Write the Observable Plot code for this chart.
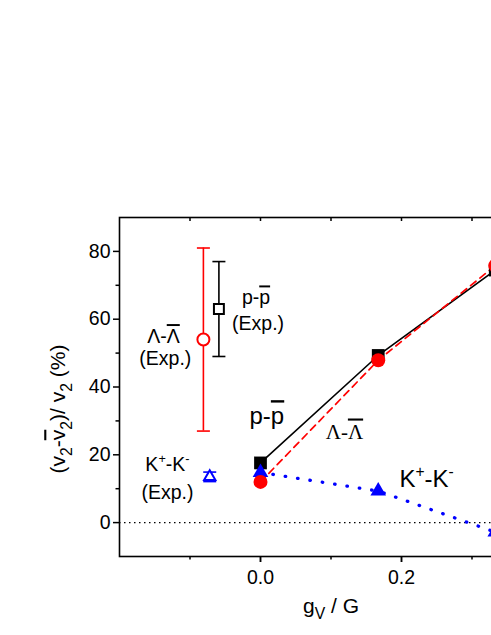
<!DOCTYPE html>
<html><head><meta charset="utf-8">
<script src="https://cdn.jsdelivr.net/npm/d3@7"></script>
<script src="https://cdn.jsdelivr.net/npm/@observablehq/plot@0.6"></script>
<style>
html,body{margin:0;padding:0;overflow:hidden;background:#fff}
#chart{width:560px;height:635px}
#chart svg{max-width:none !important;width:560px !important;height:635px !important}
</style>
</head><body><div id="chart"></div>
<script>
// ---- data ----
const gv = [0, 0.167, 0.333];
const vPP = [17.6, 49.3, 74.5];
const vLam = [12.0, 47.9, 75.8];
const vK = [14.8, 9.3, -2.8];

const expKeys = ["lam", "p", "k"];
const expX = [-0.081, -0.059, -0.072];
const expY = [54, 63, 13.5];
const expErr = [27, 14, 1.4];
const expColor = ["#ff0000", "#000000", "#0000ff"];

const xDomain = [-0.2, 0.4];
const yDomain = [-10, 90];
const xLabeled = [0, 0.2];
const xMajor = [0, 0.2, 0.4];
const xMinor = [-0.1, 0.1, 0.3];
const xTop = [-0.1, 0, 0.1, 0.2, 0.3, 0.4];
const yMajor = [0, 20, 40, 60, 80];
const yMinor = [10, 30, 50, 70];

// labels (markup: [x] overline, ^c superscript, _c subscript)
const bigLabels = ["p-[p]", "K^+-K^-"];
const bigLabelX = [-0.0156, 0.197];
const bigLabelY = [31.3, 12.8];
const serifLabel = ["Λ-[Λ]"];
const serifLabelX = [0.119];
const serifLabelY = [26.5];
const expLabels = ["Λ-[Λ]", "(Exp.)", "p-[p]", "(Exp.)", "K^+-K^-", "(Exp.)"];
const expLabelX = [-0.1376, -0.135, -0.0064, -0.0035, -0.132, -0.132];
const expLabelY = [54.8, 48.4, 66.2, 58.6, 17.0, 8.8];
const yTitle = "(v_2-[v]_2)/ v_2 (%)";
const xTitle = "g_V / G";

// ---- tables ----
const rows = (ys) => gv.map((g, i) => ({g, v: ys[i]}));
const pp = rows(vPP), lam = rows(vLam), kk = rows(vK);
const exp = expKeys.map((k, i) => ({k, x: expX[i], y: expY[i], lo: expY[i] - expErr[i], hi: expY[i] + expErr[i], c: expColor[i]}));
const capSym = {draw(ctx, size) { const w = Math.sqrt(size / Math.PI); ctx.moveTo(-w, 0); ctx.lineTo(w, 0); }};
const lab = (t, xs, ys) => t.map((s, i) => ({s, x: xs[i], y: ys[i]}));

const sans = "'Liberation Sans', Arial, sans-serif";
const serif = "'Liberation Serif', 'Times New Roman', serif";

const chart = Plot.plot({
  width: 560, height: 635,
  marginLeft: 119, marginRight: 18, marginTop: 217, marginBottom: 79,
  x: {domain: xDomain},
  y: {domain: yDomain},
  style: {fontFamily: sans, background: "white", color: "black", maxWidth: "none"},
  marks: [
    Plot.ruleY([0], {strokeDasharray: "1.5,3.5", strokeWidth: 1.3}),
    Plot.line(pp, {x: "g", y: "v", stroke: "black", strokeWidth: 1.6}),
    Plot.line(lam, {x: "g", y: "v", stroke: "#ff0000", strokeWidth: 1.7, strokeDasharray: "7,5"}),
    Plot.line(kk, {x: "g", y: "v", stroke: "#0000ff", strokeWidth: 3.3, strokeDasharray: "0.5,12", strokeLinecap: "round"}),
    // experimental error bars
    Plot.ruleX(exp, {x: "x", y1: "lo", y2: "hi", stroke: "c", strokeWidth: 1.6}),
    Plot.dot(exp, {x: "x", y: "lo", symbol: capSym, r: 6.5, stroke: "c", fill: "none", strokeWidth: 1.6}),
    Plot.dot(exp, {x: "x", y: "hi", symbol: capSym, r: 6.5, stroke: "c", fill: "none", strokeWidth: 1.6}),
    Plot.dot(exp.filter(d => d.k === "lam"), {x: "x", y: "y", r: 6, fill: "white", stroke: "c", strokeWidth: 2, symbol: "circle"}),
    Plot.dot(exp.filter(d => d.k === "p"), {x: "x", y: "y", r: 5.6, fill: "white", stroke: "c", strokeWidth: 2, symbol: "square"}),
    Plot.dot(exp.filter(d => d.k === "k"), {x: "x", y: "y", r: 4.2, fill: "white", stroke: "c", strokeWidth: 2, symbol: "triangle"}),
    // model points
    Plot.dot(pp, {x: "g", y: "v", symbol: "square", r: 7.2, fill: "black", stroke: "none"}),
    Plot.dot(kk, {x: "g", y: "v", symbol: "triangle", r: 5.8, fill: "#0000ff", stroke: "none"}),
    Plot.dot(lam, {x: "g", y: "v", symbol: "circle", r: 7, fill: "#ff0000", stroke: "none"}),
    // labels
    Plot.text(lab(bigLabels, bigLabelX, bigLabelY), {x: "x", y: "y", text: "s", textAnchor: "start", fontSize: 24, fill: "black"}),
    Plot.text(lab(serifLabel, serifLabelX, serifLabelY), {x: "x", y: "y", text: "s", fontSize: 21, fontFamily: serif, fill: "black"}),
    Plot.text(lab(expLabels, expLabelX, expLabelY), {x: "x", y: "y", text: "s", fontSize: 19.5, fill: "black"}),
    Plot.text([yTitle], {frameAnchor: "left", textAnchor: "middle", text: d => d, rotate: -90, dx: -61, dy: 22, fontSize: 21, fill: "black", style: {letterSpacing: "1.2px"}}),
    Plot.text([xTitle], {frameAnchor: "bottom", textAnchor: "middle", text: d => d, dy: 56, fontSize: 21, fill: "black"}),
    // axes
    Plot.axisY({ticks: yMajor, tickSize: 6, tickPadding: 3, fontSize: 19.5, label: null, strokeWidth: 1.5}),
    Plot.axisY({ticks: yMinor, tickSize: 3.5, tickFormat: () => "", label: null, strokeWidth: 1.5}),
    Plot.axisX({ticks: xLabeled, tickSize: 6, tickPadding: 8, fontSize: 19.5, tickFormat: d3.format(".1f"), label: null, strokeWidth: 1.5}),
    Plot.axisX({ticks: xMajor, tickSize: 6, tickFormat: () => "", label: null, strokeWidth: 1.5}),
    Plot.axisX({ticks: xMinor, tickSize: 3.5, tickFormat: () => "", label: null, strokeWidth: 1.5}),
    Plot.ruleX(xTop, {x: d => d, y1: () => yDomain[1], y2: () => yDomain[1], insetBottom: -4, strokeWidth: 1.5}),
    Plot.frame({strokeWidth: 1.6})
  ]
});

// rich-text post-processing (overlines, sub/superscripts)
function rich(el, fs, scale) {
  const src = el.textContent;
  const t = d3.select(el);
  t.text(null);
  const toks = [];
  for (let i = 0; i < src.length; i++) {
    const ch = src[i];
    if (ch === "[") { const j = src.indexOf("]", i); toks.push({s: src.slice(i + 1, j), type: "over"}); i = j; }
    else if (ch === "^") { toks.push({s: src[i + 1], type: "sup"}); i++; }
    else if (ch === "_") { toks.push({s: src[i + 1], type: "sub"}); i++; }
    else toks.push({s: ch, type: "n"});
  }
  let shift = 0;
  for (const tk of toks) {
    const ts = t.append("tspan").text(tk.s);
    const target = tk.type === "sup" ? -0.4 * fs : tk.type === "sub" ? 0.3 * fs : 0;
    if (target !== shift) ts.attr("dy", target - shift);
    shift = target;
    if (tk.type === "sup" || tk.type === "sub") ts.attr("font-size", scale * fs);
    if (tk.type === "over") ts.style("text-decoration", "overline");
  }
}
d3.select(chart).selectAll("text").each(function () {
  const s = this.textContent;
  if (!/[\[\^_]/.test(s)) return;
  const host = this.closest("[font-size]");
  const fs = host ? parseFloat(host.getAttribute("font-size")) : 19;
  rich(this, fs, /_/.test(s) ? 0.75 : 0.65);
});
document.getElementById("chart").appendChild(chart);
</script></body></html>
